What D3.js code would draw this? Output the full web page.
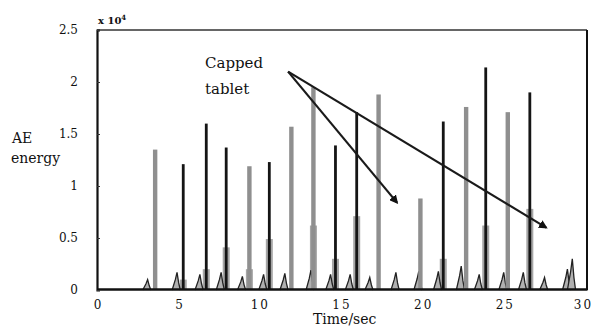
<!DOCTYPE html>
<html><head><meta charset="utf-8">
<script src="https://cdnjs.cloudflare.com/ajax/libs/d3/7.8.5/d3.min.js"></script>
<style>
html,body{margin:0;padding:0;background:#fff;}
svg{display:block;}
text{font-family:"DejaVu Serif",serif;fill:#111;}
</style></head>
<body>
<script>
// ---- data ----
const spikeTime  = [3.56,5.28,6.69,7.91,9.33,10.55,11.9,13.25,14.6,15.9,17.24,19.8,21.2,22.6,23.8,25.15,26.5];
const spikePeak  = [1.35,1.21,1.6,1.37,1.19,1.23,1.57,1.95,1.39,1.71,1.88,0.88,1.62,1.76,2.14,1.71,1.9];
const spikeTone  = ["gray","black","black","black","gray","black","gray","gray","black","black","gray","gray","black","gray","black","gray","black"];
const spikeUnder = [0,0.1,0.2,0.41,0.2,0.49,0,0.62,0.3,0.71,0,0,0.3,0,0.62,0,0.78];
const bumpTime   = [3.1,4.9,6.3,7.6,8.9,10.2,11.5,13.1,14.3,15.5,16.7,18.3,19.7,20.9,22.3,23.4,24.9,26.1,27.4,28.8,29.1];
const bumpHeight = [0.1,0.17,0.15,0.17,0.13,0.15,0.16,0.19,0.15,0.15,0.12,0.17,0.18,0.18,0.23,0.15,0.17,0.17,0.12,0.2,0.3];
const xTicks = [0,5,10,15,20,25,30];
const yTicks = [0,0.5,1,1.5,2,2.5];
const yTickLabels = ["0","0.5","1","1.5","2","2.5"];
const arrowFrom = [11.7,2.1];
const arrowTo = [[18.37,0.84],[27.5,0.6]];
const annotation = ["Capped","tablet"];

// ---- chart ----
const W = 595, H = 329;
const svg = d3.select("body").append("svg").attr("width",W).attr("height",H);
const x = d3.scaleLinear().domain([0,30]).range([97,587]);
const y = d3.scaleLinear().domain([0,2.5]).range([290,30]);

// gray underlays
svg.append("g").selectAll("rect").data(spikeTime.map((t,i)=>({t,u:spikeUnder[i]})).filter(d=>d.u>0))
  .join("rect")
  .attr("x",d=>x(d.t)-3.5).attr("width",7)
  .attr("y",d=>y(d.u)).attr("height",d=>y(0)-y(d.u))
  .attr("fill","#a6a6a6");

// bumps
const bumpLine = d3.line().x(d=>x(d[0])).y(d=>y(d[1]));
svg.append("g").selectAll("path").data(bumpTime.map((t,i)=>[[t-0.3,0],[t-0.1,bumpHeight[i]*0.6],[t,bumpHeight[i]],[t+0.1,bumpHeight[i]*0.4],[t+0.2,0]]))
  .join("path")
  .attr("d",bumpLine)
  .attr("fill","#b0b0b0")
  .attr("stroke","#222").attr("stroke-width",1.3);

// spikes
svg.append("g").selectAll("rect").data(spikeTime.map((t,i)=>({t,p:spikePeak[i],c:spikeTone[i]})))
  .join("rect")
  .attr("x",d=>x(d.t)-(d.c==="gray"?2.2:1.4))
  .attr("width",d=>d.c==="gray"?4.4:2.8)
  .attr("y",d=>y(d.p)).attr("height",d=>y(0)-y(d.p))
  .attr("fill",d=>d.c==="gray"?"#8f8f8f":"#151515");

// frame
svg.append("line").attr("x1",x(0)).attr("x2",x(30)).attr("y1",y(2.5)).attr("y2",y(2.5)).attr("stroke","#333").attr("stroke-width",1.6);
svg.append("line").attr("x1",x(30)).attr("x2",x(30)).attr("y1",y(2.5)).attr("y2",y(0)).attr("stroke","#111").attr("stroke-width",2);

// axes
const xAxis = d3.axisBottom(x).tickValues(xTicks).tickSize(0).tickPadding(11).tickFormat(d3.format("d"));
const gx = svg.append("g").attr("transform",`translate(0,${y(0)-1})`).call(xAxis);
gx.select(".domain").attr("stroke","#111").attr("stroke-width",2.4);
gx.selectAll("text").attr("font-size",12).attr("letter-spacing",d=>d>=10?"2px":"0px")
  .attr("dx",d=>d>=30?"-4":(d>=10?"-0.5":"0"))
  .attr("font-family","DejaVu Serif").attr("fill","#111");

const yAxis = d3.axisLeft(y).tickValues(yTicks).tickSize(-3).tickPadding(19).tickFormat((d,i)=>yTickLabels[i]);
const gy = svg.append("g").attr("transform",`translate(${x(0)},0)`).call(yAxis);
gy.select(".domain").attr("stroke","#111").attr("stroke-width",2.2);
gy.selectAll("line").attr("stroke","#333");
gy.selectAll("text").attr("font-size",12).attr("font-family","DejaVu Serif").attr("fill","#111");

// exponent label
const ex = svg.append("text").attr("x",98).attr("y",24).attr("font-size",10).attr("font-weight","bold").attr("fill","#444");
ex.append("tspan").text("x 10");
ex.append("tspan").attr("font-size",7).attr("dy",-4).text("4");

// axis titles
svg.append("text").attr("x",12).attr("y",143).attr("font-size",14).text("AE");
svg.append("text").attr("x",11).attr("y",163).attr("font-size",14).text("energy");
svg.append("text").attr("x",313).attr("y",324).attr("font-size",14).text("Time/sec");

// annotation
svg.append("text").attr("x",205).attr("y",68).attr("font-size",15).text(annotation[0]);
svg.append("text").attr("x",205).attr("y",94).attr("font-size",15).text(annotation[1]);

svg.append("defs").append("marker").attr("id","ah").attr("viewBox","0 0 10 10")
  .attr("refX",8).attr("refY",5).attr("markerWidth",4).attr("markerHeight",4).attr("orient","auto")
  .append("path").attr("d","M0,0L10,5L0,10z").attr("fill","#111");
svg.append("g").selectAll("line").data(arrowTo).join("line")
  .attr("x1",x(arrowFrom[0])).attr("y1",y(arrowFrom[1]))
  .attr("x2",d=>x(d[0])).attr("y2",d=>y(d[1]))
  .attr("stroke","#1a1a1a").attr("stroke-width",2.2).attr("marker-end","url(#ah)");
</script>
</body></html>
